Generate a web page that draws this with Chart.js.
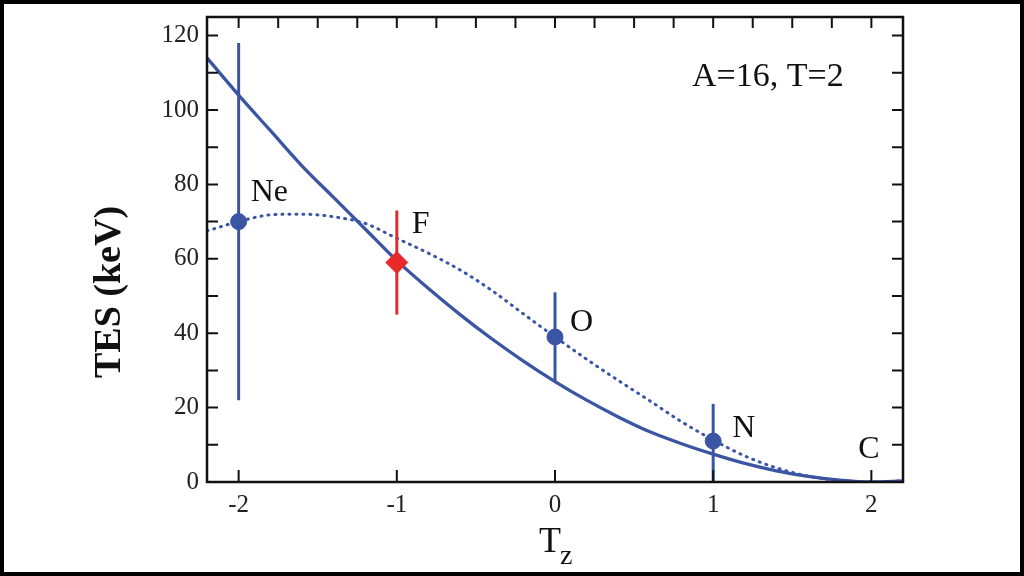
<!DOCTYPE html>
<html>
<head>
<meta charset="utf-8">
<script src="https://cdn.jsdelivr.net/npm/chart.js@4"></script>
<style>
  html, body { margin: 0; padding: 0; background: #fff; }
  canvas { display: block; }
</style>
</head>
<body>
<canvas id="myChart" width="1024" height="576"></canvas>
<script>
// curves sampled along Tz
const tzGrid   = [-2.2, -2.0, -1.8, -1.6, -1.4, -1.2, -1.0, -0.8, -0.6, -0.4, -0.2, 0, 0.2, 0.4, 0.6, 0.8, 1.0, 1.2, 1.4, 1.6, 1.8, 2.0, 2.2];
const solidTES = [114, 104, 94.5, 85, 76.5, 68, 59.5, 52, 45, 38.5, 32.5, 27, 22, 17.5, 13.5, 10.3, 7.5, 5, 3, 1.5, 0.5, 0, 0.3];
const dotTES   = [67.5, 70, 71.8, 72, 71.3, 69.5, 65.5, 61.5, 57, 51.5, 45.2, 39, 33, 27.3, 21.8, 16.2, 11.3, 7, 3.8, 1.6, 0.4, 0, 0.3];

// measured nuclei
const nuclei   = ['Ne', 'F', 'O', 'N'];
const nucTz    = [-2, -1, 0, 1];
const nucTES   = [70, 59, 39, 11];
const errLow   = [22, 45, 27, 0];
const errHigh  = [118, 73, 51, 21];

const xTicks = [-2, -1, 0, 1, 2];
const yTicks = [0, 20, 40, 60, 80, 100, 120];

const blue = '#3b55a5';
const red = '#e62a2c';
const serif = '"Liberation Serif", "DejaVu Serif", serif';

function pairs(xs, ys) {
    return xs.map((x, i) => ({x: x, y: ys[i]}));
}

let datasets = [];
// points on top
datasets.push({
    label: 'blue points',
    data: [0, 2, 3].map(i => ({x: nucTz[i], y: nucTES[i]})),
    showLine: false,
    pointStyle: 'circle',
    pointRadius: 8,
    backgroundColor: blue,
    borderColor: blue
});
datasets.push({
    label: 'F',
    data: [{x: nucTz[1], y: nucTES[1]}],
    showLine: false,
    pointStyle: 'rectRot',
    pointRadius: 11,
    backgroundColor: red,
    borderColor: red
});
nucTz.forEach((x, i) => {
    let c = nuclei[i] == 'F' ? red : blue;
    datasets.push({
        label: 'err ' + nuclei[i],
        data: [{x: x, y: errLow[i]}, {x: x, y: errHigh[i]}],
        showLine: true,
        borderColor: c,
        borderWidth: 3,
        pointRadius: 0
    });
});
datasets.push({
    label: 'dotted',
    data: pairs(tzGrid, dotTES),
    showLine: true,
    borderColor: blue,
    borderWidth: 3,
    borderDash: [1, 6],
    borderCapStyle: 'round',
    cubicInterpolationMode: 'monotone',
    pointRadius: 0
});
datasets.push({
    label: 'solid',
    data: pairs(tzGrid, solidTES),
    showLine: true,
    borderColor: blue,
    borderWidth: 3.3,
    cubicInterpolationMode: 'monotone',
    pointRadius: 0
});

// label offsets in px from the data point
const labelPos = [
    {text: 'Ne', x: -2, y: 70, dx: 12, dy: -29},
    {text: 'F', x: -1, y: 59, dx: 15, dy: -38},
    {text: 'O', x: 0, y: 39, dx: 15, dy: -14},
    {text: 'N', x: 1, y: 11, dx: 19, dy: -12},
    {text: 'C', x: 2, y: 0, dx: -13, dy: -32}
];

const framePlugin = {
    id: 'frame',
    afterDraw(chart) {
        const ctx = chart.ctx;
        const a = chart.chartArea;
        const xs = chart.scales.x, ys = chart.scales.y;
        ctx.save();
        ctx.strokeStyle = '#111';
        ctx.lineWidth = 2.5;
        ctx.strokeRect(a.left, a.top, a.right - a.left, a.bottom - a.top);
        // inward ticks
        ctx.lineWidth = 2;
        ctx.beginPath();
        for (let v = 0; v <= 120; v += 10) {
            let py = ys.getPixelForValue(v);
            ctx.moveTo(a.left, py); ctx.lineTo(a.left + 11, py);
            ctx.moveTo(a.right, py); ctx.lineTo(a.right - 11, py);
        }
        for (let v = -2; v <= 2; v += 0.25) {
            let px = xs.getPixelForValue(v);
            ctx.moveTo(px, a.top); ctx.lineTo(px, a.top + 11);
        }
        xTicks.forEach(v => {
            let px = xs.getPixelForValue(v);
            ctx.moveTo(px, a.bottom); ctx.lineTo(px, a.bottom - 12);
        });
        ctx.stroke();

        // point labels
        ctx.fillStyle = '#111';
        ctx.textBaseline = 'middle';
        ctx.textAlign = 'left';
        ctx.font = '32px ' + serif;
        labelPos.forEach(l => {
            ctx.fillText(l.text, xs.getPixelForValue(l.x) + l.dx, ys.getPixelForValue(l.y) + l.dy);
        });
        ctx.font = '34px ' + serif;
        ctx.fillText('A=16, T=2', a.right - 211, a.top + 60);

        // axis titles
        ctx.font = 'bold 38px ' + serif;
        ctx.textAlign = 'center';
        ctx.translate(110, 292);
        ctx.rotate(-Math.PI / 2);
        ctx.fillText('TES (keV)', 0, 0);
        ctx.setTransform(1, 0, 0, 1, 0, 0);
        ctx.restore();

        ctx.save();
        ctx.fillStyle = '#111';
        ctx.textBaseline = 'alphabetic';
        ctx.textAlign = 'left';
        ctx.font = '36px ' + serif;
        ctx.fillText('T', 539, 552);
        ctx.font = '28px ' + serif;
        ctx.fillText('z', 560, 564);

        // outer black frame
        ctx.strokeStyle = '#000';
        ctx.lineWidth = 5;
        ctx.strokeRect(1.5, 1.5, 1021, 573);
        ctx.restore();
    }
};

let myChart = document.getElementById('myChart').getContext('2d');
let scatterChart = new Chart(myChart, {
    type: 'scatter',
    data: {datasets: datasets},
    plugins: [framePlugin],
    options: {
        responsive: false,
        animation: false,
        layout: {padding: {left: 0, top: 17, right: 121, bottom: 0}},
        plugins: {legend: {display: false}, tooltip: {enabled: false}},
        scales: {
            x: {
                type: 'linear',
                min: -2.2,
                max: 2.2,
                grid: {display: false, drawTicks: false},
                border: {display: false},
                afterBuildTicks: s => { s.ticks = xTicks.map(v => ({value: v})); },
                afterFit: s => { s.height = 94; s.paddingLeft = 0; s.paddingRight = 0; },
                ticks: {
                    color: '#222',
                    font: {family: serif, size: 25},
                    padding: 8,
                    maxRotation: 0
                }
            },
            y: {
                type: 'linear',
                min: 0,
                max: 125,
                grid: {display: false, drawTicks: false},
                border: {display: false},
                afterBuildTicks: s => { s.ticks = yTicks.map(v => ({value: v})); },
                afterFit: s => { s.width = 207; s.paddingTop = 0; s.paddingBottom = 0; },
                ticks: {
                    color: '#222',
                    font: {family: serif, size: 25},
                    padding: 8
                }
            }
        }
    }
});
</script>
</body>
</html>
